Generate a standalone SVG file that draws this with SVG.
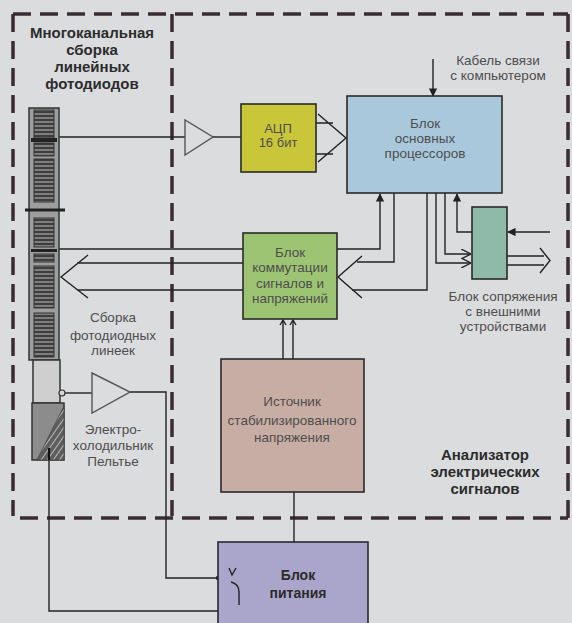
<svg xmlns="http://www.w3.org/2000/svg" width="572" height="623" viewBox="0 0 572 623">
  <style>
    .frame { fill: none; stroke: #3a2c30; stroke-width: 3.5; stroke-dasharray: 18 9; }
    .box { stroke: #2a2a2a; stroke-width: 1.6; }
    .wire { fill: none; stroke: #222; stroke-width: 1.4; }
    .amp { fill: none; stroke: #555; stroke-width: 1.4; }
    .lbl { font-family: "Liberation Sans", Arial, sans-serif; font-size: 13.5px; fill: #4e4e4e; text-anchor: middle; }
    .hdr { font-family: "Liberation Sans", Arial, sans-serif; font-size: 15px; font-weight: bold; fill: #2c2c2c; text-anchor: middle; }
  </style>
  <defs>
    <pattern id="cells" patternUnits="userSpaceOnUse" width="20" height="4">
      <rect width="20" height="4" fill="#3e3e3e"/>
      <line x1="0" y1="2" x2="20" y2="2" stroke="#a8a8a8" stroke-width="1.2"/>
    </pattern>
    <pattern id="hatch" patternUnits="userSpaceOnUse" width="5" height="5" patternTransform="rotate(-55)">
      <rect width="5" height="5" fill="#5e5e5e"/>
      <line x1="0" y1="2.5" x2="5" y2="2.5" stroke="#b8b8b8" stroke-width="1"/>
    </pattern>
    <marker id="tip" viewBox="0 0 10 10" refX="9" refY="5" markerWidth="6" markerHeight="6" orient="auto">
      <path d="M0,0 L10,5 L0,10 Z" fill="#222"/>
    </marker>
    <marker id="open" viewBox="0 0 10 10" refX="9" refY="5" markerWidth="7" markerHeight="7" orient="auto">
      <path d="M0,0 L10,5 L0,10" fill="none" stroke="#222" stroke-width="1.4"/>
    </marker>
  </defs>

  <rect width="572" height="623" fill="#dbdcde"/>

  <!-- dashed enclosures -->
  <g id="frames">
    <line class="frame" x1="13" y1="14" x2="568" y2="14"/>
    <line class="frame" x1="13" y1="14" x2="13" y2="516"/>
    <line class="frame" x1="568" y1="14" x2="568" y2="518"/>
    <line class="frame" x1="20" y1="518" x2="568" y2="518"/>
    <line class="frame" x1="172" y1="14" x2="172" y2="516"/>
  </g>

  <!-- connectors -->
  <g id="connectors">
    <!-- strip to ADC amplifier -->
    <line class="wire" x1="59" y1="137" x2="185" y2="137"/>
    <line class="wire" x1="213" y1="137" x2="241" y2="137"/>
    <!-- ADC to processors (bus arrow) -->
    <path class="wire" d="M316,123 H333 M316,154 H333 M318,114 L346,138 L318,162"/>
    <!-- cable from computer -->
    <line class="wire" x1="433" y1="59" x2="433" y2="96" marker-end="url(#tip)" stroke-width="1.8"/>
    <!-- processors to switching block -->
    <path class="wire" d="M337,249 H380 V194" marker-end="url(#tip)"/>
    <path class="wire" d="M357,262 H394 V193"/>
    <path class="wire" d="M352,290 H427 V193"/>
    <path class="wire" d="M362,256 L338,277 L362,298"/>
    <!-- processors to interface block -->
    <path class="wire" d="M445,193 V254 H470" marker-end="url(#open)"/>
    <path class="wire" d="M436,193 V263 H470" marker-end="url(#open)"/>
    <path class="wire" d="M472,232 H457 V194" marker-end="url(#tip)"/>
    <!-- interface block external lines -->
    <line class="wire" x1="550" y1="232" x2="508" y2="232" marker-end="url(#tip)"/>
    <path class="wire" d="M507,256 H544 M507,265 H544 M540,248 L550,260.5 L540,273"/>
    <!-- strip to switching block -->
    <line class="wire" x1="59" y1="249" x2="243" y2="249"/>
    <path class="wire" d="M77,263 H243 M77,290 H243 M88,255 L61,277 L88,298"/>
    <!-- switching block to voltage source -->
    <line class="wire" x1="283" y1="320" x2="283" y2="359"/>
    <line class="wire" x1="293" y1="320" x2="293" y2="359"/>
    <path class="wire" d="M280,325 L283,320 L286,325 M290,325 L293,320 L296,325" stroke-width="1"/>
    <!-- voltage source to power supply -->
    <line class="wire" x1="294" y1="492" x2="294" y2="542"/>
    <!-- cooler amplifier -->
    <line class="wire" x1="65" y1="393" x2="92" y2="393"/>
    <path class="wire" d="M130,392 H166 V578 H231"/>
    <circle cx="218" cy="578" r="2.2" fill="#222"/>
    <!-- cooler return -->
    <path class="wire" d="M49,452 V611 H242"/>
  </g>

  <!-- photodiode array strip -->
  <g id="photodiode-array">
    <rect x="29" y="108" width="30" height="252" fill="#9e9e9e" stroke="#333" stroke-width="1.5"/>
    <rect x="34" y="110" width="20" height="28" fill="url(#cells)" stroke="#333"/>
    <rect x="31" y="138" width="26" height="4" fill="#222"/>
    <rect x="34" y="143" width="20" height="13" fill="url(#cells)" stroke="#333"/>
    <rect x="34" y="159" width="20" height="43" fill="url(#cells)" stroke="#333"/>
    <line x1="25" y1="210" x2="65" y2="210" stroke="#222" stroke-width="3"/>
    <rect x="34" y="218" width="20" height="29" fill="url(#cells)" stroke="#333"/>
    <rect x="31" y="249" width="26" height="3" fill="#222"/>
    <rect x="34" y="254" width="20" height="8" fill="url(#cells)" stroke="#333"/>
    <rect x="34" y="266" width="20" height="42" fill="url(#cells)" stroke="#333"/>
    <rect x="34" y="313" width="20" height="44" fill="url(#cells)" stroke="#333"/>
    <rect x="33" y="360" width="27" height="43" fill="#cfcfcf" stroke="#333" stroke-width="1.5"/>
    <circle cx="62" cy="393" r="3" fill="#d8d8d8" stroke="#333" stroke-width="1.2"/>
  </g>

  <!-- Peltier cooler -->
  <g id="peltier">
    <rect x="32" y="403" width="32" height="57" fill="#8c8c8c" stroke="#333" stroke-width="1.5"/>
    <polygon points="64,406 64,460 37,460" fill="url(#hatch)" stroke="#444" stroke-width="0.8"/>
    <line x1="49" y1="448" x2="49" y2="460" stroke="#111" stroke-width="2"/>
  </g>

  <g id="label-array">
    <text class="hdr" x="92" y="38">Многоканальная</text>
    <text class="hdr" x="92" y="55">сборка</text>
    <text class="hdr" x="92" y="72">линейных</text>
    <text class="hdr" x="92" y="89">фотодиодов</text>
  </g>

  <g id="label-strip">
    <text class="lbl" x="113" y="322">Сборка</text>
    <text class="lbl" x="113" y="340">фотодиодных</text>
    <text class="lbl" x="113" y="355">линеек</text>
  </g>

  <g id="label-cooler">
    <text class="lbl" x="113" y="434">Электро-</text>
    <text class="lbl" x="113" y="450">холодильник</text>
    <text class="lbl" x="113" y="466">Пельтье</text>
  </g>

  <!-- amplifiers -->
  <g id="amp-signal">
    <polygon class="amp" points="185,120 185,155 213,137"/>
  </g>
  <g id="amp-cooler">
    <polygon class="amp" points="92,373 92,413 130,392"/>
  </g>

  <g id="adc">
    <rect class="box" x="241" y="104" width="75" height="68" fill="#c9c63a"/>
    <text class="lbl" x="278" y="133" style="font-size:13px">АЦП</text>
    <text class="lbl" x="278" y="147" style="font-size:13px">16 бит</text>
  </g>

  <g id="processors">
    <rect class="box" x="347" y="96" width="155" height="97" fill="#a9c8dc"/>
    <text class="lbl" x="425" y="128">Блок</text>
    <text class="lbl" x="425" y="143">основных</text>
    <text class="lbl" x="425" y="158">процессоров</text>
  </g>

  <g id="label-cable">
    <text class="lbl" x="498" y="65">Кабель связи</text>
    <text class="lbl" x="498" y="80">с компьютером</text>
  </g>

  <g id="switching">
    <rect class="box" x="243" y="233" width="94" height="86" fill="#9cc473"/>
    <text class="lbl" x="290" y="257">Блок</text>
    <text class="lbl" x="290" y="272">коммутации</text>
    <text class="lbl" x="290" y="288">сигналов и</text>
    <text class="lbl" x="290" y="303">напряжений</text>
  </g>

  <g id="interface">
    <rect class="box" x="472" y="207" width="35" height="72" fill="#8fb9a9"/>
    <text class="lbl" x="503" y="301">Блок сопряжения</text>
    <text class="lbl" x="503" y="316">с внешними</text>
    <text class="lbl" x="503" y="331">устройствами</text>
  </g>

  <g id="voltage-source">
    <rect class="box" x="221" y="359" width="143" height="133" fill="#c8ada4"/>
    <text class="lbl" x="292" y="406">Источник</text>
    <text class="lbl" x="292" y="425">стабилизированного</text>
    <text class="lbl" x="292" y="442">напряжения</text>
  </g>

  <g id="label-analyzer">
    <text class="hdr" x="485" y="460">Анализатор</text>
    <text class="hdr" x="485" y="477">электрических</text>
    <text class="hdr" x="485" y="494">сигналов</text>
  </g>

  <g id="power-supply">
    <rect class="box" x="218" y="542" width="150" height="90" fill="#aaa5cb"/>
    <path class="wire" d="M229,568 L232,575 L236,568 M231,582 Q239,584 239,592 V605" stroke-width="1.1"/>
    <text class="hdr" x="298" y="580" style="font-size:14px">Блок</text>
    <text class="hdr" x="298" y="598" style="font-size:14px">питания</text>
  </g>
</svg>
